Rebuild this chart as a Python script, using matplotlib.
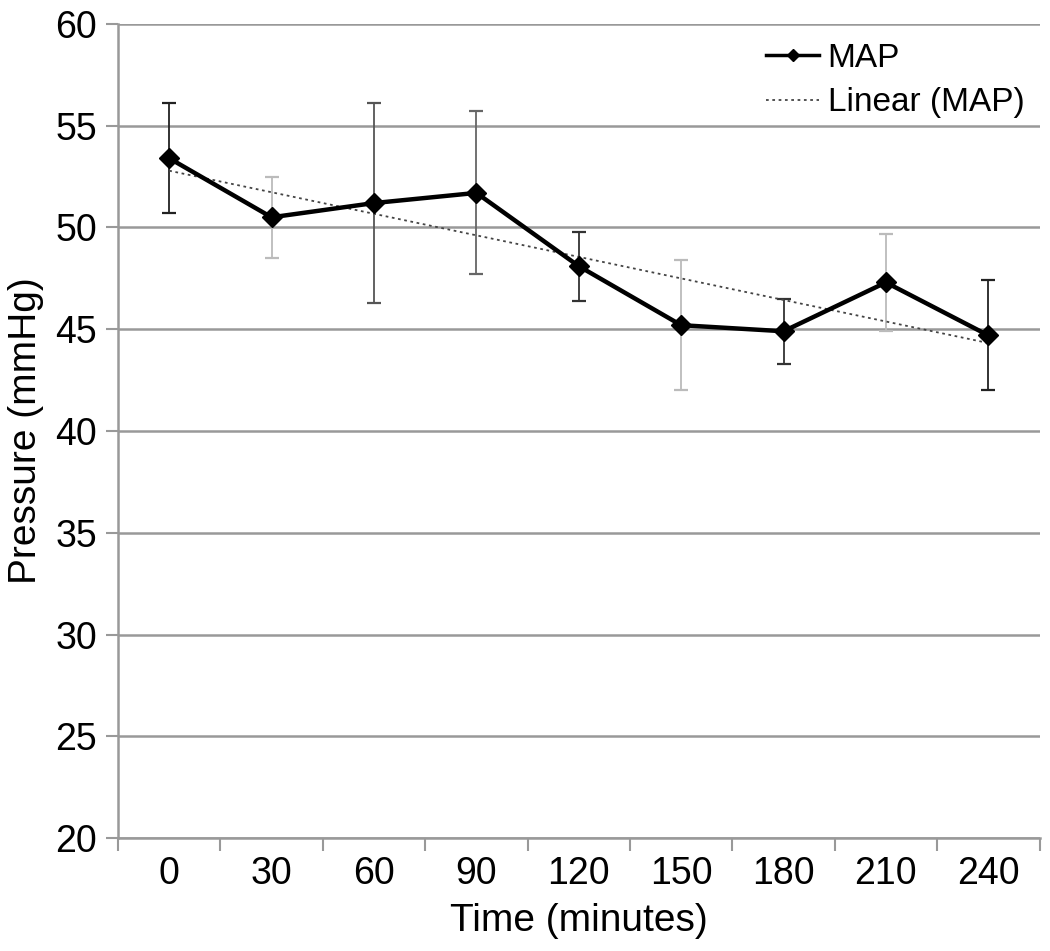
import numpy as np
import matplotlib
matplotlib.use("Agg")
import matplotlib.pyplot as plt

plt.rcParams['font.family'] = ['Liberation Sans', 'DejaVu Sans']

# data
times = ['0', '30', '60', '90', '120', '150', '180', '210', '240']
map_mean = [53.4, 50.5, 51.2, 51.7, 48.1, 45.2, 44.9, 47.3, 44.7]
map_err = [2.7, 2.0, 4.9, 4.0, 1.7, 3.2, 1.6, 2.4, 2.7]
err_colors = ['#222222', '#bbbbbb', '#555555', '#666666', '#333333',
              '#bbbbbb', '#333333', '#bbbbbb', '#222222']

fig = plt.figure(figsize=(10.5, 9.51), dpi=100)
ax = fig.add_axes([0.1124, 0.1188, 0.8776, 0.856])

x = np.arange(len(times))

# error bars, each in its own shade
for xi, yi, ei, c in zip(x, map_mean, map_err, err_colors):
    ax.errorbar(xi, yi, yerr=ei, fmt='none', ecolor=c, elinewidth=1.3,
                capsize=5, capthick=1.6, zorder=3)

line, = ax.plot(x, map_mean, color='black', lw=3.2, marker='D', ms=10,
                label='MAP', zorder=4)

# linear trend of MAP
slope, icpt = np.polyfit(x, map_mean, 1)
trend, = ax.plot(x, slope * x + icpt, color='#444444', lw=1.3,
                 ls=(0, (1.5, 2)), label='Linear (MAP)', zorder=3)

ax.set_xlim(-0.5, len(times) - 0.5)
ax.set_ylim(20, 60)
ax.set_yticks(np.arange(20, 61, 5))
ax.yaxis.grid(True, color='#999999', lw=1.8)
ax.set_axisbelow(True)

ax.set_xticks(x)
ax.set_xticklabels(times)
ax.set_xticks(np.arange(-0.5, len(times)), minor=True)
ax.tick_params(axis='x', which='major', length=0, pad=13, labelsize=27)
ax.tick_params(axis='x', which='minor', length=9, width=1.5, color='#999999')
ax.tick_params(axis='y', length=9, width=1.5, color='#999999', pad=6, labelsize=27)

for s in ['top', 'right']:
    ax.spines[s].set_visible(False)
for s in ['left', 'bottom']:
    ax.spines[s].set_color('#999999')
    ax.spines[s].set_linewidth(1.8)

ax.set_xlabel('Time (minutes)', fontsize=28, labelpad=8)
ax.set_ylabel('Pressure (mmHg)', fontsize=28, labelpad=8)

leg = ax.legend(handles=[line, trend], loc='upper right', frameon=False,
                fontsize=24, handlelength=1.6, handletextpad=0.25,
                borderaxespad=0.0, labelspacing=0.4,
                bbox_to_anchor=(0.998, 0.993))
leg.legend_handles[0].set_markersize(6)
leg.legend_handles[0].set_linewidth(2.5)

fig.savefig('out.png', dpi=100)
